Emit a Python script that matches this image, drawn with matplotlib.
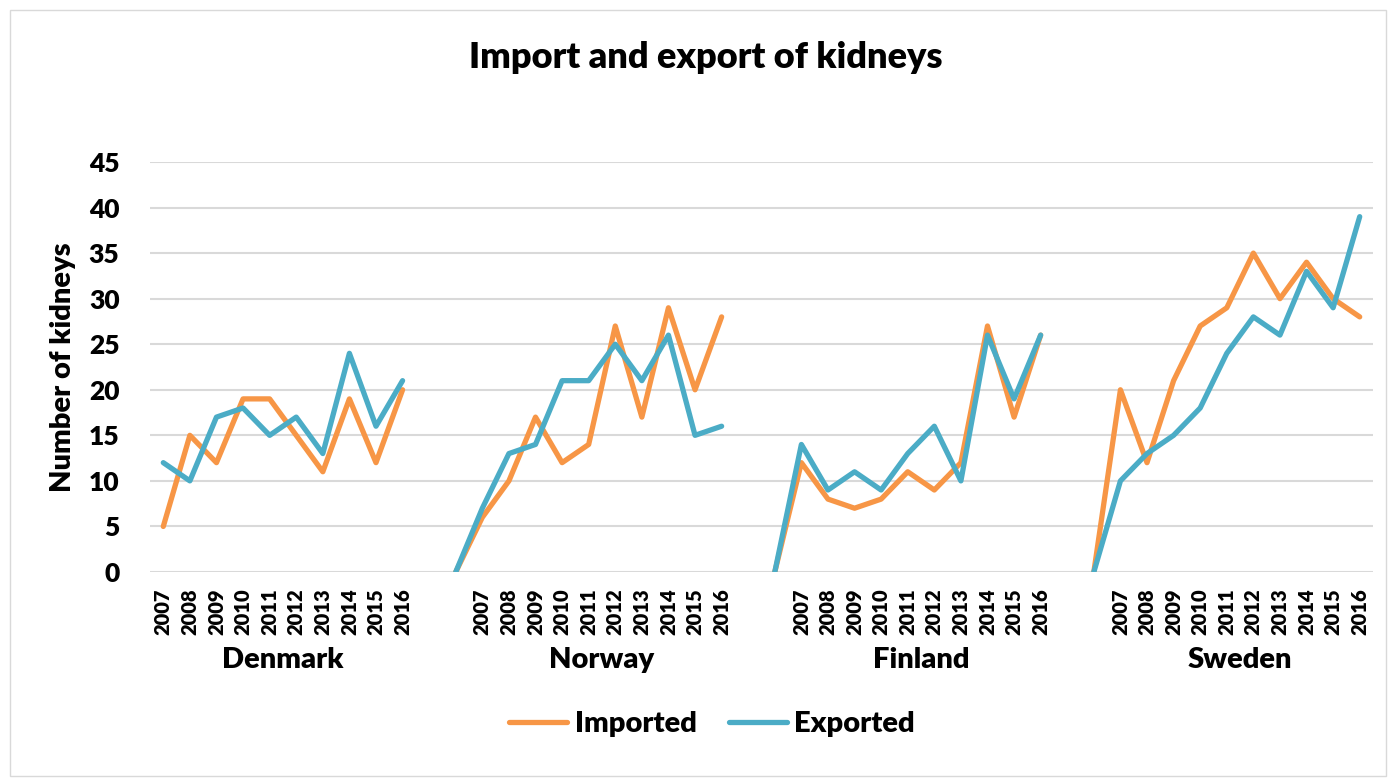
import numpy as np
import matplotlib.pyplot as plt
from matplotlib.patches import Rectangle

plt.rcParams['font.family'] = ['Lato', 'DejaVu Sans']
plt.rcParams['font.weight'] = 'heavy'

years = ['2007', '2008', '2009', '2010', '2011', '2012', '2013', '2014', '2015', '2016']
countries = ['Denmark', 'Norway', 'Finland', 'Sweden']

# Norway, Finland and Sweden begin with an unlabelled zero point in the sheet
dk_imp = [5, 15, 12, 19, 19, 15, 11, 19, 12, 20]
dk_exp = [12, 10, 17, 18, 15, 17, 13, 24, 16, 21]
no_imp = [0, 6, 10, 17, 12, 14, 27, 17, 29, 20, 28]
no_exp = [0, 7, 13, 14, 21, 21, 25, 21, 26, 15, 16]
fi_imp = [0, 12, 8, 7, 8, 11, 9, 12, 27, 17, 26]
fi_exp = [0, 14, 9, 11, 9, 13, 16, 10, 26, 19, 26]
se_imp = [0, 20, 12, 21, 27, 29, 35, 30, 34, 30, 28]
se_exp = [0, 10, 13, 15, 18, 24, 28, 26, 33, 29, 39]

orange = '#F79646'
blue = '#4BACC6'

# lay the groups out on one category axis with a blank slot between them
labels, imp, exp, centers = [], [], [], []
for i, (a, b) in enumerate([(dk_imp, dk_exp), (no_imp, no_exp),
                            (fi_imp, fi_exp), (se_imp, se_exp)]):
    if i > 0:
        labels.append('')
        imp.append(np.nan)
        exp.append(np.nan)
    lead = len(a) - len(years)
    start = len(labels) + lead
    labels += [''] * lead + years
    imp += a
    exp += b
    centers.append(start + (len(years) - 1) / 2)
x = np.arange(len(labels))

fig = plt.figure(figsize=(13.94, 7.78), dpi=100)
ax = fig.add_axes([150 / 1394, 206 / 778, 1223 / 1394, 410 / 778])

ax.plot(x, imp, color=orange, lw=3.8, solid_capstyle='round',
        solid_joinstyle='round', label='Imported', zorder=3)
ax.plot(x, exp, color=blue, lw=3.8, solid_capstyle='round',
        solid_joinstyle='round', label='Exported', zorder=4)

ax.set_xlim(-0.5, len(labels) - 0.5)
ax.set_ylim(0, 45)
ax.set_yticks(range(0, 46, 5))
ax.set_xticks(x)
ax.set_xticklabels(labels, rotation=90, fontsize=14.5, fontweight='heavy')
ax.tick_params(axis='x', length=0, pad=12)
ax.tick_params(axis='y', length=0, pad=22, labelsize=19)
ax.grid(axis='y', color='#D9D9D9', lw=1.5)
ax.set_axisbelow(True)
for s in ax.spines.values():
    s.set_visible(False)

for c, name in zip(centers, countries):
    ax.text(c, -0.215, name, transform=ax.get_xaxis_transform(),
            ha='center', va='center', fontsize=21, fontweight='heavy')

ax.set_ylabel('Number of kidneys', fontsize=21, fontweight='heavy')
ax.yaxis.label.set_va('center')
ax.yaxis.set_label_coords(-87 / 1223, 0.5)

fig.text(706 / 1394, 1 - 57 / 778, 'Import and export of kidneys',
         ha='center', va='center', fontsize=26, fontweight='heavy')

fig.legend(loc='center', bbox_to_anchor=(712 / 1394, 1 - 724 / 778), ncol=2,
           frameon=False, fontsize=21, handlelength=2.0, handletextpad=0.25,
           columnspacing=1.1)

fig.patches.append(Rectangle((10 / 1394, 2 / 778), 1376 / 1394, 766 / 778,
                             transform=fig.transFigure, fill=False,
                             edgecolor='#D9D9D9', lw=1))

fig.savefig('out.png', dpi=100)
